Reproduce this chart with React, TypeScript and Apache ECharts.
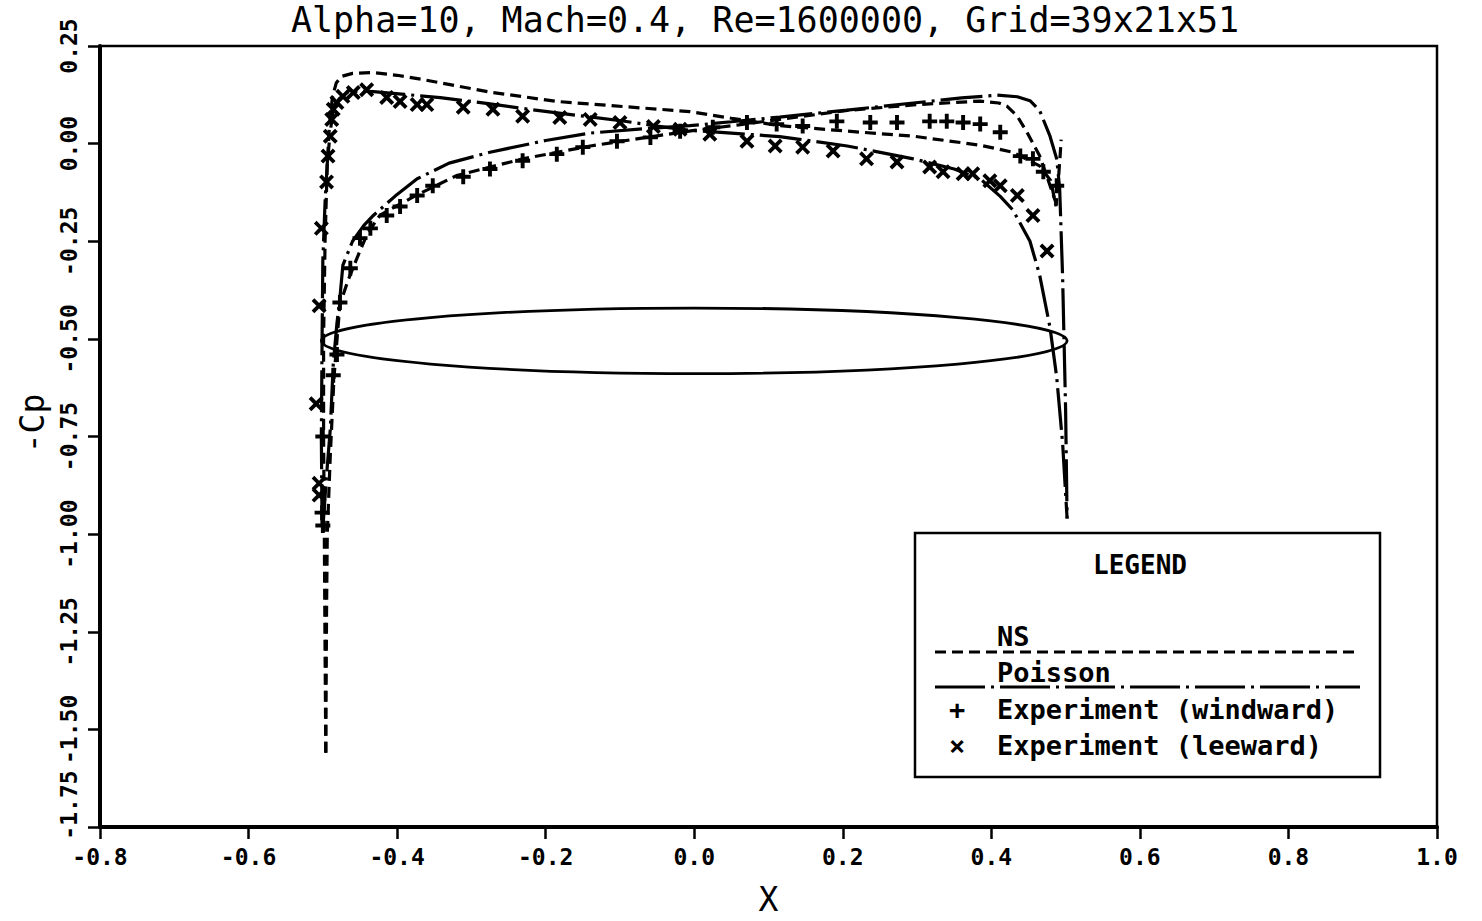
import React, { useEffect, useRef } from 'react';
import * as echarts from 'echarts';

const titleText = 'Alpha=10, Mach=0.4, Re=1600000, Grid=39x21x51';
const xAxisName = 'X';
const yAxisName = '-Cp';
const xRange = { min: -0.8, max: 1.0, interval: 0.2 };
const yRange = { min: -1.75, max: 0.25, interval: 0.25 };

const legendTitle = 'LEGEND';
const legendNames = ['NS', 'Poisson', 'Experiment (windward)', 'Experiment (leeward)'];

// Wing section outline: [centre x, centre y, semi-axis x, semi-axis y]
const wingSection: number[][] = [[0.0, -0.505, 0.502, 0.084]];

const nsLeeward: number[][] = [
  [-0.496, -1.56], [-0.497, -1.3], [-0.498, -1.0], [-0.499, -0.75], [-0.499, -0.5],
  [-0.497, -0.25], [-0.494, -0.05], [-0.491, 0.05], [-0.487, 0.12], [-0.482, 0.155],
  [-0.475, 0.172], [-0.46, 0.18], [-0.432, 0.182], [-0.4, 0.175], [-0.365, 0.164],
  [-0.32, 0.148], [-0.275, 0.132], [-0.185, 0.108], [-0.096, 0.095], [-0.006, 0.082],
  [0.05, 0.065], [0.115, 0.046], [0.206, 0.032], [0.295, 0.019], [0.385, -0.004],
  [0.429, -0.022], [0.465, -0.057], [0.48, -0.095], [0.487, -0.16], [0.49, -0.1],
  [0.493, -0.02], [0.494, 0.01],
];

const nsWindward: number[][] = [
  [-0.496, -1.56], [-0.495, -1.2], [-0.494, -1.0], [-0.49, -0.8], [-0.485, -0.6],
  [-0.48, -0.48], [-0.477, -0.412], [-0.466, -0.35], [-0.454, -0.293], [-0.44, -0.23],
  [-0.423, -0.183], [-0.374, -0.132], [-0.32, -0.082], [-0.231, -0.039], [-0.14, -0.006],
  [-0.05, 0.02], [0.0, 0.034], [0.06, 0.048], [0.115, 0.062], [0.206, 0.085],
  [0.3, 0.1], [0.385, 0.109], [0.41, 0.104], [0.421, 0.096], [0.435, 0.07],
  [0.448, 0.029], [0.465, -0.031], [0.479, -0.107], [0.488, -0.158],
];

const poissonLeeward: number[][] = [
  [-0.501, -0.98], [-0.502, -0.75], [-0.501, -0.5], [-0.5, -0.3], [-0.497, -0.15],
  [-0.494, -0.05], [-0.49, 0.03], [-0.486, 0.088], [-0.478, 0.115], [-0.467, 0.131],
  [-0.45, 0.135], [-0.432, 0.133], [-0.39, 0.126], [-0.342, 0.118], [-0.28, 0.103],
  [-0.231, 0.09], [-0.16, 0.073], [-0.096, 0.058], [-0.05, 0.045], [-0.006, 0.034],
  [0.05, 0.027], [0.115, 0.018], [0.206, -0.006], [0.295, -0.039], [0.35, -0.065],
  [0.385, -0.09], [0.412, -0.135], [0.429, -0.17], [0.452, -0.25], [0.465, -0.336],
  [0.479, -0.471], [0.488, -0.598], [0.496, -0.768], [0.502, -0.96],
];

const poissonWindward: number[][] = [
  [-0.5, -0.985], [-0.495, -0.85], [-0.49, -0.732], [-0.486, -0.565], [-0.481, -0.46],
  [-0.477, -0.395], [-0.473, -0.311], [-0.46, -0.25], [-0.445, -0.21], [-0.432, -0.184],
  [-0.4, -0.13], [-0.373, -0.09], [-0.33, -0.05], [-0.275, -0.022], [-0.2, 0.008],
  [-0.14, 0.027], [-0.07, 0.038], [-0.006, 0.046], [0.05, 0.056], [0.115, 0.068],
  [0.206, 0.086], [0.295, 0.104], [0.36, 0.117], [0.408, 0.124], [0.435, 0.12],
  [0.452, 0.11], [0.465, 0.085], [0.479, 0.019], [0.488, -0.039], [0.492, -0.115],
  [0.496, -0.344], [0.5, -0.681], [0.502, -0.96],
];

const expWindward: number[][] = [
  [-0.5, -0.978], [-0.501, -0.945], [-0.5, -0.75], [-0.486, -0.593], [-0.481, -0.54],
  [-0.477, -0.407], [-0.463, -0.319], [-0.45, -0.242], [-0.436, -0.217], [-0.414, -0.184],
  [-0.396, -0.161], [-0.373, -0.133], [-0.352, -0.108], [-0.311, -0.085], [-0.275, -0.065],
  [-0.231, -0.044], [-0.185, -0.027], [-0.15, -0.009], [-0.104, 0.006], [-0.059, 0.016],
  [-0.019, 0.032], [0.025, 0.042], [0.071, 0.054], [0.111, 0.05], [0.146, 0.045],
  [0.192, 0.057], [0.237, 0.054], [0.273, 0.054], [0.317, 0.057], [0.34, 0.057],
  [0.362, 0.054], [0.385, 0.05], [0.412, 0.029], [0.439, -0.032], [0.456, -0.039],
  [0.47, -0.072], [0.488, -0.108],
];

const expLeeward: number[][] = [
  [-0.505, -0.87], [-0.505, -0.9], [-0.509, -0.666], [-0.505, -0.415], [-0.502, -0.217],
  [-0.495, -0.098], [-0.493, -0.032], [-0.49, 0.019], [-0.488, 0.062], [-0.486, 0.088],
  [-0.481, 0.105], [-0.473, 0.121], [-0.459, 0.131], [-0.441, 0.138], [-0.414, 0.118],
  [-0.396, 0.108], [-0.373, 0.1], [-0.36, 0.1], [-0.311, 0.093], [-0.271, 0.088],
  [-0.231, 0.07], [-0.181, 0.067], [-0.14, 0.062], [-0.1, 0.054], [-0.055, 0.044],
  [-0.019, 0.037], [0.021, 0.024], [0.071, 0.006], [0.109, -0.006], [0.146, -0.009],
  [0.187, -0.019], [0.232, -0.039], [0.273, -0.047], [0.317, -0.06], [0.335, -0.072],
  [0.362, -0.077], [0.375, -0.077], [0.398, -0.095], [0.412, -0.108], [0.435, -0.133],
  [0.456, -0.184], [0.475, -0.275],
];

const FONT = "'DejaVu Sans Mono', monospace";
const PLUS = 'path://M3.7,0H6.3V3.7H10V6.3H6.3V10H3.7V6.3H0V3.7H3.7Z';
const CROSS = 'path://M0,1.8L1.8,0L5,3.2L8.2,0L10,1.8L6.8,5L10,8.2L8.2,10L5,6.8L1.8,10L0,8.2L3.2,5Z';
const NS_DASH = [11, 6];
const POISSON_DASH = [42, 6, 3, 6];

export default function App() {
  const ref = useRef<HTMLDivElement>(null);
  useEffect(() => {
    if (!ref.current) return;
    const chart = echarts.init(ref.current, undefined, { renderer: 'svg' });
    const lineSeries = (name: string, data: number[][], dash: number[]) => ({
      name,
      type: 'line',
      data,
      showSymbol: false,
      symbol: 'none',
      lineStyle: { color: '#000', width: 3.2, type: dash },
      z: 3,
    });
    const lx = 915, ly = 533, lw = 465, lh = 244;
    const option: any = {
      animation: false,
      backgroundColor: '#fff',
      grid: {
        left: 100, right: 45, top: 46, bottom: 87,
        show: true, borderColor: '#000', borderWidth: 2.5, backgroundColor: 'transparent',
      },
      xAxis: {
        type: 'value',
        min: xRange.min, max: xRange.max, interval: xRange.interval,
        name: xAxisName, nameLocation: 'middle', nameGap: 56,
        nameTextStyle: { fontFamily: FONT, fontSize: 33, color: '#000' },
        axisLine: { show: true, onZero: false, lineStyle: { color: '#000', width: 4 } },
        axisTick: { show: true, length: 12, lineStyle: { color: '#000', width: 2.5 } },
        axisLabel: {
          margin: 18, color: '#000', fontFamily: FONT, fontWeight: 'bold', fontSize: 23,
          formatter: (v: number) => v.toFixed(1),
        },
        splitLine: { show: false },
      },
      yAxis: {
        type: 'value',
        min: yRange.min, max: yRange.max, interval: yRange.interval,
        name: yAxisName, nameLocation: 'middle', nameGap: 50, nameRotate: 90,
        nameTextStyle: { fontFamily: FONT, fontSize: 33, color: '#000', padding: [0, 0, 0, 26] },
        axisLine: { show: true, onZero: false, lineStyle: { color: '#000', width: 4 } },
        axisTick: { show: true, length: 12, lineStyle: { color: '#000', width: 2.5 } },
        axisLabel: {
          rotate: 90, margin: 20, color: '#000', fontFamily: FONT, fontWeight: 'bold', fontSize: 23,
          formatter: (v: number) => {
            const s = v.toFixed(2);
            return Math.abs(v - yRange.min) < 1e-9 ? '{m|' + s + '}' : s;
          },
          rich: { m: { padding: [0, 0, 0, 44], fontFamily: FONT, fontWeight: 'bold', fontSize: 23, color: '#000' } },
        },
        splitLine: { show: false },
      },
      series: [
        {
          name: 'wing',
          type: 'custom',
          data: wingSection,
          renderItem: (params: any, api: any) => {
            const c = api.coord([api.value(0), api.value(1)]);
            const s = api.size([api.value(2), api.value(3)]);
            return {
              type: 'ellipse',
              shape: { cx: c[0], cy: c[1], rx: s[0], ry: s[1] },
              style: { fill: 'none', stroke: '#000', lineWidth: 2.8 },
            };
          },
          z: 2,
        },
        lineSeries(legendNames[0], nsLeeward, NS_DASH),
        lineSeries(legendNames[0] + ' windward', nsWindward, NS_DASH),
        lineSeries(legendNames[1], poissonLeeward, POISSON_DASH),
        lineSeries(legendNames[1] + ' windward', poissonWindward, POISSON_DASH),
        {
          name: legendNames[2], type: 'scatter', data: expWindward,
          symbol: PLUS, symbolSize: 15, itemStyle: { color: '#000', opacity: 1 }, z: 4,
        },
        {
          name: legendNames[3], type: 'scatter', data: expLeeward,
          symbol: CROSS, symbolSize: 15, itemStyle: { color: '#000', opacity: 1 }, z: 4,
        },
      ],
      graphic: [
        {
          type: 'text', x: 765, y: 37,
          style: { text: titleText, fontFamily: FONT, fontSize: 35, fill: '#000', align: 'center', verticalAlign: 'bottom' },
        },
        {
          type: 'rect', shape: { x: lx, y: ly, width: lw, height: lh },
          style: { fill: '#fff', stroke: '#000', lineWidth: 2.5 }, z: 10,
        },
        {
          type: 'text', x: 1140, y: 565, z: 11,
          style: { text: legendTitle, fontFamily: FONT, fontWeight: 'bold', fontSize: 26, fill: '#000', align: 'center', verticalAlign: 'middle' },
        },
        {
          type: 'text', x: 997, y: 636, z: 11,
          style: { text: legendNames[0], fontFamily: FONT, fontWeight: 'bold', fontSize: 27, fill: '#000', align: 'left', verticalAlign: 'middle' },
        },
        {
          type: 'line', z: 11, shape: { x1: 935, y1: 652, x2: 1360, y2: 652 },
          style: { stroke: '#000', lineWidth: 3, lineDash: NS_DASH },
        },
        {
          type: 'text', x: 997, y: 672, z: 11,
          style: { text: legendNames[1], fontFamily: FONT, fontWeight: 'bold', fontSize: 27, fill: '#000', align: 'left', verticalAlign: 'middle' },
        },
        {
          type: 'line', z: 11, shape: { x1: 935, y1: 687, x2: 1360, y2: 687 },
          style: { stroke: '#000', lineWidth: 3, lineDash: [50, 6, 3, 6] },
        },
        {
          type: 'text', x: 957, y: 709, z: 11,
          style: { text: '+', fontFamily: FONT, fontWeight: 'bold', fontSize: 27, fill: '#000', align: 'center', verticalAlign: 'middle' },
        },
        {
          type: 'text', x: 997, y: 709, z: 11,
          style: { text: legendNames[2], fontFamily: FONT, fontWeight: 'bold', fontSize: 27, fill: '#000', align: 'left', verticalAlign: 'middle' },
        },
        {
          type: 'text', x: 957, y: 745, z: 11,
          style: { text: '×', fontFamily: FONT, fontWeight: 'bold', fontSize: 27, fill: '#000', align: 'center', verticalAlign: 'middle' },
        },
        {
          type: 'text', x: 997, y: 745, z: 11,
          style: { text: legendNames[3], fontFamily: FONT, fontWeight: 'bold', fontSize: 27, fill: '#000', align: 'left', verticalAlign: 'middle' },
        },
      ],
    };
    chart.setOption(option);
    return () => chart.dispose();
  }, []);
  return <div ref={ref} style={{ position: 'absolute', left: 0, top: 0, width: 1482, height: 921 }} />;
}
